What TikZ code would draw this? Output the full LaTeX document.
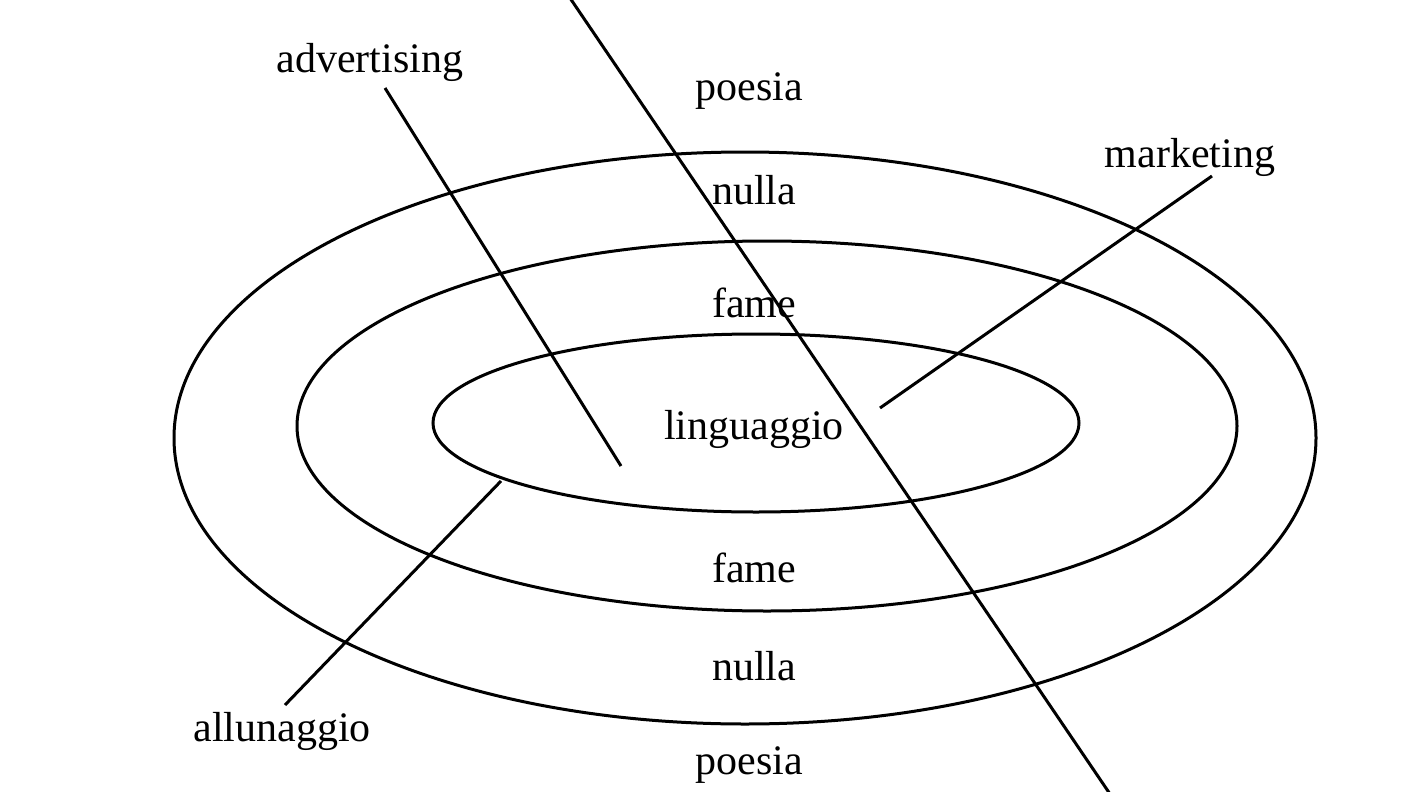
\documentclass[tikz,border=0pt]{standalone}
\usepackage{fontspec}
\setmainfont{Liberation Serif}
\begin{document}
\begin{tikzpicture}[x=1pt,y=-1pt,line width=3pt,
  lbl/.style={font=\fontsize{42}{46}\selectfont,inner sep=0pt}]
\useasboundingbox (0,0) rectangle (1408,792);
\draw (745,438) ellipse [x radius=571, y radius=286];
\draw (767,426) ellipse [x radius=470, y radius=185];
\draw (756,423) ellipse [x radius=323, y radius=89];
\coordinate (lt) at (570,-2); \coordinate (lb) at (1110,794);
\draw (lt) -- (lb);
\coordinate (a1) at (385,88); \coordinate (a2) at (621,466);
\draw (a1) -- (a2);
\coordinate (m1) at (1212,176); \coordinate (m2) at (880,408);
\draw (m1) -- (m2);
\coordinate (u1) at (501,481); \coordinate (u2) at (285,705);
\draw (u1) -- (u2);
\node[lbl] (p1) at (749,91) {poesia};
\node[lbl] (n1) at (754,190) {nulla};
\node[lbl] (f1) at (754,303) {fame};
\node[lbl] (l) at (754,429) {linguaggio};
\node[lbl] (f2) at (754,568) {fame};
\node[lbl] (n2) at (754,666) {nulla};
\node[lbl] (p2) at (749,765) {poesia};
\node[lbl] (adv) at (370,62) {advertising};
\node[lbl] (mk) at (1190,157) {marketing};
\node[lbl] (al) at (282,731) {allunaggio};
\end{tikzpicture}
\end{document}
